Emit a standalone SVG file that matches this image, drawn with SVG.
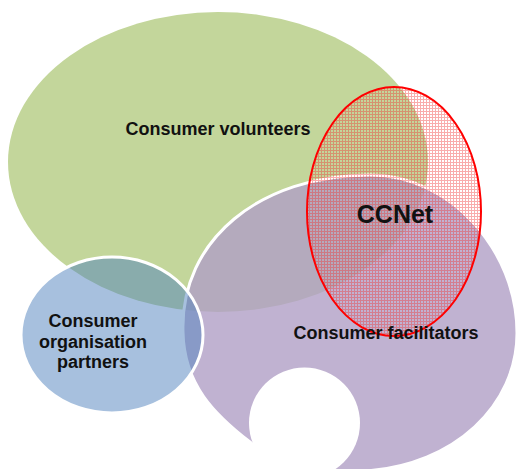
<svg xmlns="http://www.w3.org/2000/svg" width="517" height="469" viewBox="0 0 517 469">
  <style>
    .lbl { font-family: "Liberation Sans", Arial, sans-serif; font-weight: bold; font-size: 18px; fill: #111111; text-anchor: middle; }
    .big { font-size: 25px; }
  </style>
  <defs>
    <pattern id="chk" width="3" height="3" patternUnits="userSpaceOnUse">
      <rect x="0" y="0" width="3" height="1" fill="#f03030" fill-opacity="0.4"/>
      <rect x="0" y="1" width="1" height="2" fill="#f03030" fill-opacity="0.4"/>
    </pattern>
  </defs>
  <rect width="517" height="469" fill="#ffffff"/>
  <g id="volunteers">
    <ellipse cx="218" cy="162" rx="210" ry="150" fill="#c3d69b"/>
  </g>
  <g id="facilitators">
    <path d="M 183,332 C 180,240 260,175 370,175 C 450,175 517,250 517,333 C 517,405 455,465 365,471 L 300,486 L 250,442 C 215,415 184,385 183,332 Z" fill="#b09fc6" fill-opacity="0.8" stroke="#ffffff" stroke-width="3"/>
    <circle cx="304.5" cy="423" r="55.5" fill="#ffffff"/>
  </g>
  <g id="partners">
    <ellipse cx="112" cy="335" rx="91" ry="78" fill="#4f81bd" fill-opacity="0.5" stroke="#ffffff" stroke-width="3"/>
  </g>
  <g id="ccnet">
    <ellipse cx="394" cy="211.5" rx="87" ry="124.5" fill="url(#chk)" stroke="#ff0000" stroke-width="2"/>
  </g>
  <g id="connectors"></g>
  <g id="labels">
    <text class="lbl" x="218" y="135">Consumer volunteers</text>
    <text class="lbl big" x="395" y="223">CCNet</text>
    <text class="lbl" x="386" y="339">Consumer facilitators</text>
    <text class="lbl" x="93" y="327">Consumer</text>
    <text class="lbl" x="93" y="348">organisation</text>
    <text class="lbl" x="93" y="368">partners</text>
  </g>
</svg>
